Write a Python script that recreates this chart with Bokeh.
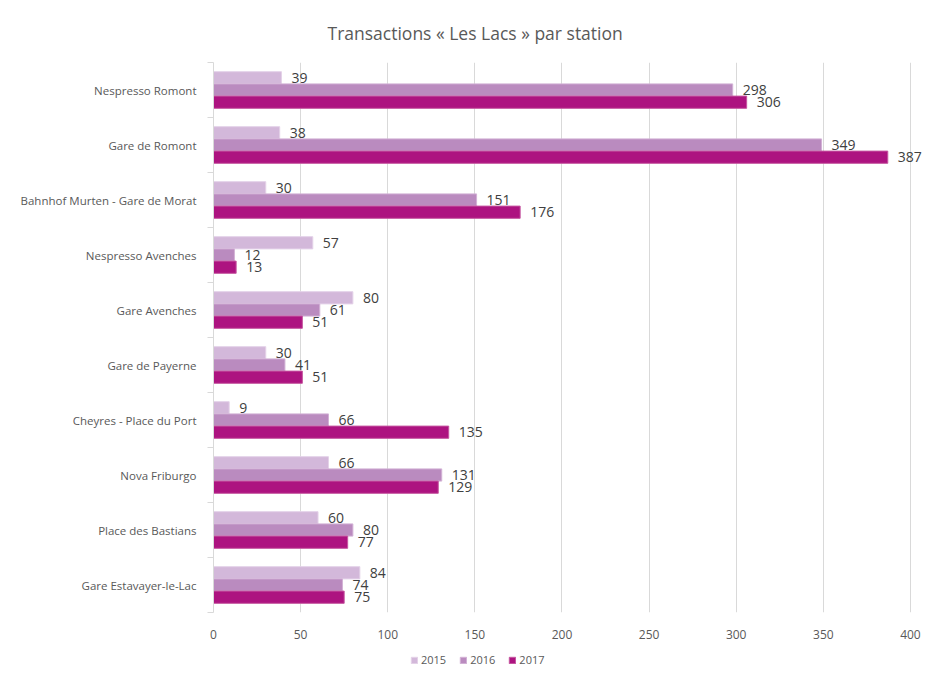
from bokeh.plotting import figure
from bokeh.layouts import column
from bokeh.models import (ColumnDataSource, Range1d, FixedTicker, Legend, LegendItem)
from bokeh.transform import dodge
from bokeh.core.properties import value
from bokeh.embed import file_html
from bokeh.resources import INLINE

title = "Transactions « Les Lacs » par station"
stations = ["Nespresso Romont", "Gare de Romont", "Bahnhof Murten - Gare de Morat",
            "Nespresso Avenches", "Gare Avenches", "Gare de Payerne",
            "Cheyres - Place du Port", "Nova Friburgo", "Place des Bastians",
            "Gare Estavayer-le-Lac"]
years = ["2015", "2016", "2017"]
v2015 = [39, 38, 30, 57, 80, 30, 9, 66, 60, 84]
v2016 = [298, 349, 151, 12, 61, 41, 66, 131, 80, 74]
v2017 = [306, 387, 176, 13, 51, 51, 135, 129, 77, 75]
x_ticks = [0, 50, 100, 150, 200, 250, 300, 350, 400]

colors = ["#D3B8DA", "#BA8BBF", "#AD1380"]
edges = ["#E4D2E8", "#D2B1D5", "#C5559F"]
FONT = "Open Sans"

n = len(stations)
ypos = [n - 0.5 - i for i in range(n)]
src = ColumnDataSource(dict(y=ypos, station=stations,
                            v2015=v2015, v2016=v2016, v2017=v2017,
                            t2015=[str(v) for v in v2015],
                            t2016=[str(v) for v in v2016],
                            t2017=[str(v) for v in v2017]))

p = figure(width=927, height=641, output_backend="svg", toolbar_location=None,
           x_range=Range1d(0, 409.8), y_range=Range1d(0, n),
           min_border_left=213, min_border_right=0, min_border_top=62,
           min_border_bottom=27, title=title)
p.outline_line_color = None
p.background_fill_color = "white"
p.border_fill_color = "white"

p.title.text_font = FONT
p.title.text_font_size = "17.5px"
p.title.text_font_style = "normal"
p.title.text_color = "#595959"
p.title.align = "left"
p.title.offset = 114
p.title.vertical_align = "middle"
p.title.standoff = 34

h = 0.222
offsets = [h, 0.0, -h]
for yr, col, ec, off in zip(years, colors, edges, offsets):
    p.hbar(y=dodge("y", off), right="v" + yr, left=0, height=h, source=src,
           fill_color=col, line_color=ec, line_width=1)
    p.text(x="v" + yr, y=dodge("y", off), text="t" + yr, source=src,
           x_offset=10, text_baseline="middle", text_align="left",
           text_font=value(FONT), text_font_size="14px", text_color="#404040")

# x axis
p.xaxis.ticker = FixedTicker(ticks=x_ticks)
p.xaxis.axis_line_color = None
p.xaxis.major_tick_line_color = None
p.xaxis.minor_tick_line_color = None
p.xaxis.major_label_text_font = FONT
p.xaxis.major_label_text_font_size = "12px"
p.xaxis.major_label_text_color = "#595959"
p.xaxis.major_label_standoff = 11

# y axis
p.yaxis.ticker = FixedTicker(ticks=ypos, minor_ticks=list(range(n + 1)))
p.yaxis.major_label_overrides = {y: s for y, s in zip(ypos, stations)}
p.yaxis.axis_line_color = "#D9D9D9"
p.yaxis.major_tick_line_color = None
p.yaxis.major_tick_out = 0
p.yaxis.major_tick_in = 0
p.yaxis.minor_tick_line_color = "#D9D9D9"
p.yaxis.minor_tick_out = 6
p.yaxis.minor_tick_in = 0
p.yaxis.major_label_text_font = FONT
p.yaxis.major_label_text_font_size = "11.5px"
p.yaxis.major_label_text_color = "#595959"
p.yaxis.major_label_standoff = 11

p.xgrid.grid_line_color = "#D9D9D9"
p.ygrid.grid_line_color = None

# legend strip below the chart (its ranges keep the series' bars out of view)
pl = figure(width=927, height=36, output_backend="svg", toolbar_location=None,
            x_axis_location=None, y_axis_location=None, min_border=0,
            x_range=Range1d(-3, -2), y_range=Range1d(-3, -2))
pl.outline_line_color = None
pl.grid.visible = False
items = []
for yr, col, ec in zip(years, colors, edges):
    r = pl.hbar(y="y", right="v" + yr, left=0, height=h, source=src,
                fill_color=col, line_color=ec, line_width=1)
    items.append(LegendItem(label=yr, renderers=[r]))
legend = Legend(items=items, orientation="horizontal", location=(197, 10),
                label_text_font=FONT, label_text_font_size="11px",
                label_text_color="#595959", glyph_width=8, glyph_height=8,
                label_standoff=3, spacing=13, padding=0, margin=0,
                border_line_color=None, background_fill_alpha=0,
                label_height=14)
pl.add_layout(legend, "center")

layout = column(p, pl, spacing=0)
open("out.html", "w").write(file_html(layout, INLINE))
